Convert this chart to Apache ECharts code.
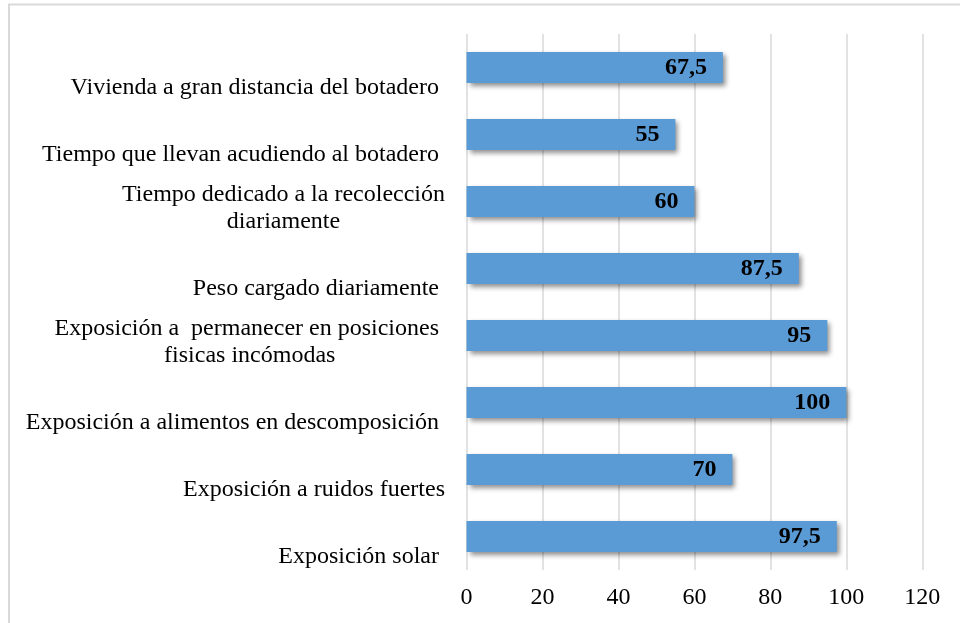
<!DOCTYPE html>
<html>
<head>
<meta charset="utf-8">
<script src="https://cdn.jsdelivr.net/npm/echarts@6/dist/echarts.min.js"></script>
<style>html,body{margin:0;padding:0;background:#fff}#c{width:960px;height:623px}</style>
</head>
<body>
<div id="c"></div>
<script>
// Categories listed top to bottom (lines split as in the reference)
const categories = [
  ['Vivienda a gran distancia del botadero '],
  ['Tiempo que llevan acudiendo al botadero '],
  ['Tiempo dedicado a la recolección', 'diariamente'],
  ['Peso cargado diariamente '],
  ['Exposición a  permanecer en posiciones ', 'fisicas incómodas'],
  ['Exposición a alimentos en descomposición '],
  ['Exposición a ruidos fuertes'],
  ['Exposición solar ']
];
const values = [67.5, 55, 60, 87.5, 95, 100, 70, 97.5];
const xTicks = [0, 20, 40, 60, 80, 100, 120];

const FONT = '"Liberation Serif", "Times New Roman", serif';
const chart = echarts.init(document.getElementById('c'), null, {renderer: 'canvas'});
const catNames = categories.map(c => c.join('\n'));

chart.setOption({
  animation: false,
  backgroundColor: '#fff',
  graphic: [{
    type: 'rect',
    shape: {x: 9, y: 4.5, width: 1000, height: 700},
    style: {fill: 'none', stroke: '#d9d9d9', lineWidth: 2},
    silent: true
  }],
  grid: {left: 466.5, right: 37.7, top: 34, bottom: 53},
  xAxis: {
    type: 'value',
    min: xTicks[0],
    max: xTicks[xTicks.length - 1],
    interval: 20,
    axisLine: {show: false},
    axisTick: {show: false},
    splitLine: {show: true, lineStyle: {color: '#d9d9d9', width: 1.5}},
    axisLabel: {fontFamily: FONT, fontSize: 24, color: '#000', margin: 16}
  },
  yAxis: {
    type: 'category',
    inverse: true,
    data: catNames,
    axisLine: {show: false},
    axisTick: {show: false},
    axisLabel: {
      margin: 21.5,
      align: 'right',
      verticalAlign: 'middle',
      formatter: function (v) {
        const lines = v.split('\n');
        const pre = lines.length === 1 ? '{e1| }' : '{e2| }';
        return pre + '\n' + lines.map(l => '{c|' + l + '}').join('\n');
      },
      rich: {
        e1: {lineHeight: 40, fontSize: 1},
        e2: {lineHeight: 14, fontSize: 1},
        c: {fontFamily: FONT, fontSize: 24, color: '#000', lineHeight: 27, align: 'center'}
      }
    }
  },
  series: [{
    type: 'bar',
    data: values,
    barWidth: 31,
    itemStyle: {
      color: '#5B9BD5',
      shadowColor: 'rgba(0,0,0,0.45)',
      shadowBlur: 5,
      shadowOffsetX: 3,
      shadowOffsetY: 3
    },
    label: {
      show: true,
      position: 'insideRight',
      distance: 16,
      fontFamily: FONT,
      fontSize: 24,
      fontWeight: 'bold',
      color: '#000',
      formatter: p => String(p.value).replace('.', ',')
    }
  }]
});
</script>
</body>
</html>
